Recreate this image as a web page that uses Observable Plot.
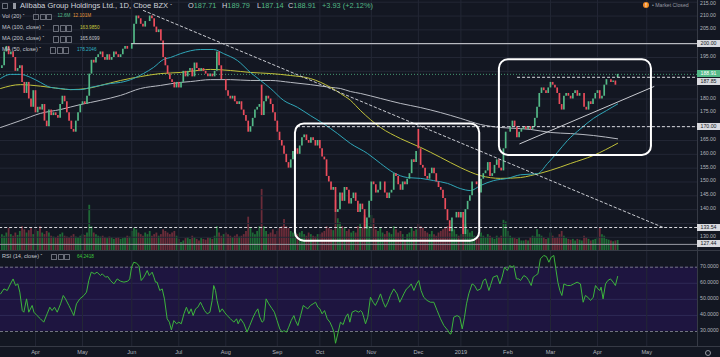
<!DOCTYPE html>
<html><head><meta charset="utf-8">
<script src="https://cdn.jsdelivr.net/npm/d3@7"></script>
<script src="https://cdn.jsdelivr.net/npm/@observablehq/plot@0.6"></script>
<style>
html,body{margin:0;padding:0;background:#131722;}
#wrap{position:relative;width:720px;height:357px;overflow:hidden;background:#131722;font-family:"Liberation Sans",Arial,sans-serif;}
#wrap svg{position:absolute;left:0;}
.a{position:absolute;white-space:nowrap;line-height:1;}
.ic{position:absolute;width:4.4px;height:4.4px;border:0.7px solid #6b6f7a;border-radius:0.6px;}
.tick{position:absolute;left:700px;font-size:5.2px;color:#b2b5be;line-height:1;transform:translateY(-50%);}
.tag{position:absolute;left:697px;width:23px;height:7px;font-size:5.2px;line-height:7px;text-align:center;background:#d9dadf;color:#131722;}
.ln{position:absolute;background:#363a45;}
</style></head>
<body><div id="wrap"></div>
<script>
// ---------------- DATA ----------------
// Daily closes, Mar 9 2018 .. Apr 12 2019 (trading days)
const closes = [
  192,197,199,196,197,195,190,191,192,186,182,186,180,177,183,
  175,177,176,178,172,170,176,174,175,174,173,178,181,179,175,172,169,168,172,175,178,
  179,178,181,189,194,193,195,196,197,195,194,196,194,195,197,196,195,196,198,199,198,198,
  200,207,210,209,207,206,208,208,210,209,206,204,205,201,195,192,189,187,186,184,186,
  184,186,190,188,190,191,188,193,191,190,191,190,189,188,189,188,190,197,192,187,187,
  183,181,180,181,179,178,179,176,174,172,168,170,173,176,177,178,174,179,181,180,178,175,172,
  168,165,163,160,157,155,158,161,162,160,163,166,167,165,164,166,165,163,165,
  162,159,158,152,150,147,148,139,140,146,143,148,147,142,144,146,143,139,142,140,133,137,143,
  150,149,146,147,150,150,146,144,146,147,153,152,149,147,150,149,151,153,158,157,161,
  162,156,155,152,151,153,155,153,150,148,147,144,140,136,132,137,137,139,137,
  139,131,140,143,145,150,150,149,146,151,153,154,157,152,153,156,158,155,154,162,168,
  168,170,172,170,166,168,169,170,169,170,169,170,173,177,182,184,183,182,184,
  186,185,184,182,178,176,181,182,181,180,182,183,181,182,182,177,176,179,178,180,182,
  183,180,181,185,187,187,186,186.5,184.98,188.91
];
// Gap opens (day index, open); other days open at the previous close
const gapOpens = [[0,191],[116,185],[186,169],[275,187.71]];
// Daily volume, millions
const volumes = [
  20,18,22,28,20,18,22,19,24,30,26,22,25,28,20,
  26,24,30,22,20,24,22,18,17,16,18,20,22,18,17,16,18,20,17,16,18,
  20,19,22,57,30,22,20,18,17,18,16,15,17,16,14,15,16,14,15,16,18,17,
  24,28,26,22,20,18,22,20,24,18,20,22,18,20,26,24,22,20,22,24,18,
  14,10,12,15,16,14,18,16,14,12,15,14,13,16,15,14,18,30,22,18,20,
  22,20,18,16,18,20,17,18,20,24,42,28,22,20,24,30,77,30,24,20,22,26,20,
  24,28,30,39,30,28,24,22,26,20,22,24,20,18,22,20,18,17,20,
  20,22,24,30,28,26,25,63,40,35,30,28,24,26,22,24,22,30,34,28,44,38,30,
  44,40,26,24,28,22,20,24,22,20,30,26,22,24,20,12,20,22,28,24,26,
  34,30,28,24,22,20,24,20,18,22,24,26,28,30,22,28,26,20,18,
  20,38,34,26,22,24,18,16,20,22,18,16,20,18,16,14,18,16,18,38,36,
  24,18,16,15,14,16,12,12,13,12,16,18,17,26,20,18,16,14,15,
  22,18,15,16,20,24,18,15,14,13,14,12,14,13,12,18,16,14,12,13,14,
  16,28,20,18,14,13,12,11,12,12.6
];
// Moving averages: [day index, price]
const ma50 = [[-0.6,187.4],[3.8,188.9],[8.3,188.9],[12.8,187.8],[17.2,186],[21.7,184.2],[26.2,183.8],[30.6,183.4],[35.1,183.4],[39.6,184.2],[44,184.9],[48.5,185.6],[53,186],[58.8,187.4],[63.2,189.2],[67.7,191.4],[72.2,194.3],[75.3,195],[79.8,196.4],[88.7,197.9],[94.5,197.9],[99,196.4],[105.2,193.9],[111,189.6],[115.5,186.7],[120,183.8],[125.8,179.5],[132,177],[137.8,174],[143.6,171.1],[149.9,167.5],[155.7,163.9],[163.3,160.3],[169.1,156.7],[174.9,153.4],[181.1,151.6],[187,151.3],[192.8,150.5],[199,149.5],[204.8,147.6],[209.3,146.9],[213.7,148.7],[219.6,150.5],[225.8,151.3],[231.6,152.6],[239.2,153],[243.7,156.7],[248.1,160.7],[252.6,165],[258.5,169.3],[264.2,173],[270,175.8],[275,178.2]];
const ma100 = [[-0.6,183.8],[8.3,185.2],[12.8,185],[21.7,184.2],[30.6,183.4],[38.2,183.8],[44,184.9],[53,186.7],[61.9,188.1],[70.8,189.2],[79.8,189.6],[84.2,190],[93.2,190.7],[102.1,190.3],[111,189.6],[120,189.2],[128.9,188.5],[137.8,187.4],[146.8,184.2],[151.2,182],[155.7,179.5],[160.2,175.8],[169.1,169.7],[178,165.7],[187,162.5],[195.9,158.9],[204.8,155.2],[213.7,152.3],[222.7,151.3],[231.6,151.6],[236.1,152.3],[245,154.2],[254,156.7],[264.2,159.6],[275,164]];
const ma200 = [[-0.6,169.7],[8.3,172.2],[17.2,174.8],[26.2,176.2],[35.1,178],[44,179.5],[53,181.3],[61.9,183.8],[70.8,184.9],[79.8,186],[84.2,186.3],[93.2,187],[102.1,187],[111,186.7],[120,186.7],[128.9,186],[137.8,185.2],[146.8,184.2],[151.2,183.8],[155.7,182.7],[160.2,182],[169.1,180.2],[178,178.4],[187,176.9],[195.9,175.1],[204.8,173],[213.7,170.8],[222.7,169.7],[231.6,169.3],[236.1,169],[245,167.9],[254,167.5],[264.2,166.8],[275,165.6]];
// RSI(14): [day index, value]
const rsiPoints = [[-0.6,53.4],[0.9,56.5],[2.4,55.5],[3.8,59.6],[5,62.7],[6.1,58.6],[7.1,59.6],[8,54.5],[9.1,43],[9.8,42],[11,50.3],[12,42],[13.5,46.2],[14.3,42],[15.7,39.9],[17.2,37.9],[18.7,35.8],[20.2,41],[21.4,45.1],[22.4,43],[23.5,45.1],[24.7,42],[26.2,47.2],[27.4,52.4],[28.4,50.3],[29.9,46.2],[31.4,42],[32.1,39.9],[33.3,47.2],[34.8,50.3],[36.6,52.4],[37.8,54.5],[38.8,61.7],[39.9,66.9],[41.4,65.9],[42.5,66.9],[44,64.8],[44.8,65.9],[46.3,63.8],[47.3,64.2],[48.5,61.7],[50,59.6],[51.5,62.7],[53,61.3],[54.5,60.7],[56.2,61.3],[57.1,62.7],[57.9,70],[58.9,73.1],[60.1,72.5],[61.2,71],[62.2,61.7],[63.4,63.8],[64.9,67.9],[65.8,64.8],[67.1,66.9],[67.9,63.8],[68.6,60.7],[69.3,60.7],[70.5,55.5],[71.6,56.5],[72.6,50.3],[73.8,37.9],[74.8,35.8],[75.7,31],[76.8,36.8],[78,34.8],[79,35.8],[80.1,34.8],[81.3,41],[82.4,45.1],[83.5,41],[84.5,44.1],[85.4,39.9],[86.5,44.1],[87.5,45.1],[88.7,48.2],[89.4,46.2],[90.5,43],[91.7,41],[92.9,42],[93.9,49.3],[94.6,58.6],[95.4,55.5],[96.1,49.3],[97.3,42],[98.4,44.1],[99.4,42],[100.6,39.9],[102.1,37.9],[103.6,35.8],[104.8,37.9],[105.5,34.8],[106.6,37.9],[108.1,34.8],[109.5,29.6],[110.7,33.7],[112.2,38.9],[113.3,42],[114.3,44.1],[115.2,38.9],[116.2,35.8],[117,36.8],[118,50.3],[119.2,47.2],[120.7,44.1],[121.7,42],[122.9,36.8],[124.1,31.6],[125.2,29.6],[125.9,30.6],[127.1,29.6],[128.1,32.7],[129.2,36.8],[130.4,39.9],[131.1,36.8],[132.2,33.7],[133.4,39.9],[134.6,46.2],[135.6,45.1],[136.6,44.1],[137.8,46.2],[139,47.2],[140.1,48.2],[141.1,45.1],[142,44.1],[143,41],[144.1,43],[145.3,37.9],[146.5,35.8],[147.5,32.7],[148.3,29.6],[149,22.7],[150,28.5],[151.2,35.8],[152.4,34.3],[153.5,38.9],[154.5,41],[155.4,35.8],[156.4,42],[157.9,43],[159.4,42],[160.2,43],[160.9,42],[161.6,38.9],[162.4,34.8],[163.4,38.9],[164.6,51.3],[165.8,48.2],[166.8,46.2],[167.9,49.3],[169.1,53.4],[170.3,48.2],[171.3,45.1],[172.4,48.2],[173.5,52.4],[175,56.5],[176.5,53.4],[177.7,48.2],[178.8,51.3],[179.5,53.4],[180.7,56.5],[181.7,57.6],[182.8,59.6],[184,55.5],[185.2,59.6],[186.2,61.7],[187.2,55.5],[188.4,51.3],[189.9,49.3],[191.4,48.2],[192.9,48.2],[194.4,43],[195.9,37.9],[197.4,33.7],[199.2,30.6],[200.1,28.5],[200.6,28.5],[201.8,38.9],[203.3,39.9],[204.5,38.9],[205.6,31.6],[206.6,38.9],[207.5,47.2],[208.5,53.4],[210,59.6],[211.1,58.6],[212.3,55.5],[213.8,56.5],[215,61.7],[216,62.7],[217.5,55.5],[218.2,58.6],[219.4,63.8],[221.2,64.8],[222.4,59.6],[223.4,63.8],[224.5,70],[225.7,67.9],[226.8,71],[227.9,70],[228.6,71],[229.8,62.7],[230.9,62.7],[231.6,61.7],[233.1,64.8],[234.3,63.8],[235.3,61.7],[236.4,58.6],[237.3,63.8],[238.3,64.8],[239.4,65.9],[240.5,75.2],[242,77.3],[243.2,76.6],[244.3,73.1],[245.3,76.2],[246.5,77.3],[247.4,69],[248.3,60.7],[249.2,55.5],[250.1,52.4],[251,59.6],[252.5,58.6],[254,58.6],[255.4,59.6],[256.9,60.7],[258.4,59.6],[259.6,48.2],[260.6,52.4],[261.7,51.3],[262.9,49.3],[264.1,51.3],[265.1,58.6],[266.2,56.5],[267.1,55.5],[267.6,57.6],[268.5,50.3],[269.6,59.6],[270.6,61.7],[271.8,62.7],[273,60.7],[274,58.6],[275,64.24]];
// Drawn annotations (day index, price)
const trendDown = [[63.2,212.0],[295.5,133.5]];
const trendUp = [[231.3,163.8],[291.2,184.5]];
const zones = [{x1:131.1,x2:213.4,y1:128.6,y2:171.0},{x1:222.2,x2:290.1,y1:159.6,y2:194.2}];
const solidLevels = [{price:200, from:58}];
const dashedLevels = [{price:187.85, from:230.3},{price:170, from:132},{price:133.54, from:-1}];
const baseLevels = [{price:127.44, from:-1}];
const lastPrice = 188.91;
// Axis labels
const priceTicks = [215,210,205,195,180,175,165,160,155,150,145,140,130];
const priceGrid = [130,135,140,145,150,155,160,165,170,175,180,185,190,195,200,205,210,215];
const priceTags = [200,170,133.54,127.44];
const rsiTicks = [70,60,50,40,30];
const monthNames = ["2019","Feb","Mar","Apr","May","Jun","Jul","Aug","Sep","Oct","Nov","Dec"];
const holidays = ["2018-03-30","2018-05-28","2018-07-04","2018-09-03","2018-11-22","2018-12-05","2018-12-25","2019-01-01","2019-01-21","2019-02-18"];

// ---------------- LAYOUT ----------------
const W = 720, AXIS_X = 697, MAIN_H = 250;
const X_DOMAIN = [-0.63, 310.67];
const PRICE_DOMAIN = [125.23, 215.61];
const VOL_DOMAIN = [0, 315];
const RSI_DOMAIN = [20.67, 80.39];
const UP = "#53b987", DOWN = "#eb4d5c", GRID = "#232735", WHITE = "#d9dadf";

function tradingDays(start, end) {
  const out = [], d = new Date(start + "T12:00:00Z"), e = new Date(end + "T12:00:00Z");
  while (d <= e) {
    const iso = d.toISOString().slice(0, 10), wd = d.getUTCDay();
    if (wd !== 0 && wd !== 6 && !holidays.includes(iso)) out.push(iso);
    d.setUTCDate(d.getUTCDate() + 1);
  }
  return out;
}
const days = tradingDays("2018-03-09", "2019-05-01");
const monthTicks = [];
for (let i = 1; i < days.length; i++) {
  const m = +days[i].slice(5, 7), pm = +days[i - 1].slice(5, 7);
  if (m !== pm) monthTicks.push({i, label: monthNames[m - 1]});
}
const gapMap = new Map(gapOpens);
const candles = closes.map((c, i) => {
  const o = gapMap.has(i) ? gapMap.get(i) : closes[i - 1];
  return {i, o, c, v: volumes[i], up: c >= o};
});
const xEnd = () => X_DOMAIN[1];
const base = {width: W, marginLeft: 0, marginRight: W - AXIS_X, marginTop: 0,
  style: {background: "transparent", overflow: "visible", fontFamily: "Liberation Sans, Arial, sans-serif"}};

const volPlot = Plot.plot({...base, height: MAIN_H, marginBottom: 0,
  x: {domain: X_DOMAIN, axis: null}, y: {domain: VOL_DOMAIN, axis: null},
  marks: [
    Plot.ruleX(candles, {filter: d => d.up, x: "i", y1: () => 0, y2: "v", stroke: "#1e6a36", strokeWidth: 1.8}),
    Plot.ruleX(candles, {filter: d => !d.up, x: "i", y1: () => 0, y2: "v", stroke: "#6a2c39", strokeWidth: 1.8})
  ]});

const mainPlot = Plot.plot({...base, height: MAIN_H, marginBottom: 0,
  x: {domain: X_DOMAIN, axis: null}, y: {domain: PRICE_DOMAIN, axis: null},
  marks: [
    Plot.ruleX(monthTicks, {x: "i", stroke: GRID}),
    Plot.ruleY(priceGrid, {stroke: GRID}),
    Plot.ruleY(baseLevels, {y: "price", x1: "from", x2: xEnd, stroke: "#9a9ca5", strokeWidth: 1}),
    Plot.ruleY([lastPrice], {stroke: UP, strokeDasharray: "1,2", strokeWidth: 0.8}),
    Plot.line(ma200, {x: d => d[0], y: d => d[1], stroke: "#b7bac2", strokeWidth: 1, curve: "monotone-x"}),
    Plot.line(ma100, {x: d => d[0], y: d => d[1], stroke: "#c2c23a", strokeWidth: 1, curve: "monotone-x"}),
    Plot.line(ma50, {x: d => d[0], y: d => d[1], stroke: "#2fa6b8", strokeWidth: 1, curve: "monotone-x"}),
    Plot.ruleX(candles, {filter: d => d.up, x: "i", y1: "o", y2: "c", stroke: UP, strokeWidth: 1.7}),
    Plot.ruleX(candles, {filter: d => !d.up, x: "i", y1: "o", y2: "c", stroke: DOWN, strokeWidth: 1.7}),
    Plot.ruleY(solidLevels, {y: "price", x1: "from", x2: xEnd, stroke: WHITE, strokeWidth: 1}),
    Plot.ruleY(dashedLevels, {y: "price", x1: "from", x2: xEnd, stroke: WHITE, strokeWidth: 1, strokeDasharray: "3,2"}),
    Plot.line(trendDown, {x: d => d[0], y: d => d[1], stroke: "#c9cbd1", strokeWidth: 1, strokeDasharray: "2.5,2.5"}),
    Plot.line(trendUp, {x: d => d[0], y: d => d[1], stroke: "#c9cbd1", strokeWidth: 1}),
    Plot.rect(zones, {x1: "x1", x2: "x2", y1: "y1", y2: "y2", fill: "none", stroke: "#ffffff", strokeWidth: 2, rx: 9})
  ]});

const rsiPlot = Plot.plot({...base, height: 107, marginBottom: 11,
  x: {domain: X_DOMAIN, axis: null}, y: {domain: RSI_DOMAIN, axis: null},
  marks: [
    Plot.rect([{lo: 30, hi: 70}], {x1: () => X_DOMAIN[0], x2: xEnd, y1: "lo", y2: "hi", fill: "#1e1540"}),
    Plot.ruleY([40, 50, 60], {stroke: "#2e2a55"}),
    Plot.ruleX(monthTicks, {x: "i", stroke: GRID}),
    Plot.ruleY([30, 70], {stroke: "#8a8d99", strokeWidth: 0.8, strokeDasharray: "3,2"}),
    Plot.line(rsiPoints, {x: d => d[0], y: d => d[1], stroke: "#3cb43c", strokeWidth: 1}),
    Plot.text(monthTicks, {x: "i", text: "label", frameAnchor: "bottom", dy: 7, fill: "#b2b5be", fontSize: 5.6})
  ]});

const wrap = document.getElementById("wrap");
volPlot.style.top = "0px"; mainPlot.style.top = "0px"; rsiPlot.style.top = MAIN_H + "px";
wrap.append(volPlot, mainPlot, rsiPlot);

function scaleOf(plot, name) {
  const s = plot.scale(name);
  if (s && typeof s.apply === "function") return v => s.apply(v);
  return d3.scaleLinear(s.domain, s.range);
}
const yP = scaleOf(mainPlot, "y");
const yR = scaleOf(rsiPlot, "y");

function add(html) { wrap.insertAdjacentHTML("beforeend", html); }
// frame lines
add(`<div class="ln" style="left:0;top:${MAIN_H}px;width:720px;height:1px"></div>`);
add(`<div class="ln" style="left:0;top:346px;width:720px;height:1px"></div>`);
add(`<div class="ln" style="left:${AXIS_X}px;top:0;width:1px;height:346px"></div>`);
// price axis
priceTicks.forEach(p => add(`<div class="tick" style="top:${Math.max(yP(p), 4)}px">${p.toFixed(2)}</div>`));
priceTags.forEach(p => add(`<div class="tag" style="top:${yP(p) - 3.5}px">${p.toFixed(2)}</div>`));
add(`<div class="tag" style="top:${yP(lastPrice) - 3.5}px;background:${UP};color:#fff">${lastPrice.toFixed(2)}</div>`);
add(`<div class="tag" style="top:${yP(lastPrice) + 4}px">${(187.85).toFixed(2)}</div>`);
rsiTicks.forEach(v => add(`<div class="tick" style="top:${MAIN_H + yR(v)}px">${v.toFixed(4)}</div>`));
// legend
function icons(x, y) {
  return [0, 6.5, 13].map(dx => `<div class="ic" style="left:${x + dx}px;top:${y}px"></div>`).join("");
}
const lab = "#c3c6ce";
add(`<div class="ic" style="left:2px;top:3px"></div><div class="a" style="left:13px;top:2.5px;width:3px;height:6px;background:#9598a1"></div>`);
add(`<div class="a" style="left:20px;top:1.6px;font-size:7.6px;color:#d1d4dc">Alibaba Group Holdings Ltd., 1D, Cboe BZX <span style="font-size:5px">&#711;</span></div>`);
[["O","187.71",188],["H","189.79",222],["L","187.14",257],["C","188.91",288]].forEach(([k, v, x]) =>
  add(`<div class="a" style="left:${x}px;top:1.6px;font-size:7.4px;color:#d1d4dc">${k}<span style="color:${UP}">${v}</span></div>`));
add(`<div class="a" style="left:322px;top:1.6px;font-size:7.4px;color:${UP}">+3.93 (+2.12%)</div>`);
const rows = [
  {y: 16.7, label: "Vol (20)", ix: 33, vals: [["12.6M", UP, 57.5], ["12.101M", "#e59a3a", 73]]},
  {y: 28.3, label: "MA (100, close)", ix: 53, vals: [["163.9850", "#c8c83e", 80]]},
  {y: 39.3, label: "MA (200, close)", ix: 53, vals: [["165.6099", "#c9cbd1", 80]]},
  {y: 50.3, label: "MA (50, close)", ix: 50, vals: [["178.2046", "#2fb0c4", 77]]},
  {y: MAIN_H + 7, label: "RSI (14, close)", ix: 51, vals: [["64.2418", "#3cc43c", 77]]}
];
rows.forEach(r => {
  add(`<div class="a" style="left:2px;top:${r.y - 3}px;font-size:5.6px;color:${lab}">${r.label} <span style="font-size:5px">&#711;</span></div>`);
  add(icons(r.ix, r.y - 2.9));
  r.vals.forEach(([t, c, x]) => add(`<div class="a" style="left:${x}px;top:${r.y - 2.5}px;font-size:4.7px;color:${c}">${t}</div>`));
});
// market status
add(`<div class="a" style="left:643px;top:2px;width:6px;height:6px;border-radius:50%;background:#f08a24;color:#fff;font-size:5px;line-height:6px;text-align:center;font-weight:bold">!</div>`);
add(`<div class="a" style="left:652px;top:2.6px;font-size:5.2px;color:#9598a1">&#8226; Market Closed</div>`);
add(`<div class="a" style="left:705px;top:349.5px;width:4px;height:4px;border:0.8px solid #9598a1;border-radius:50%"></div>`);
</script></body></html>
